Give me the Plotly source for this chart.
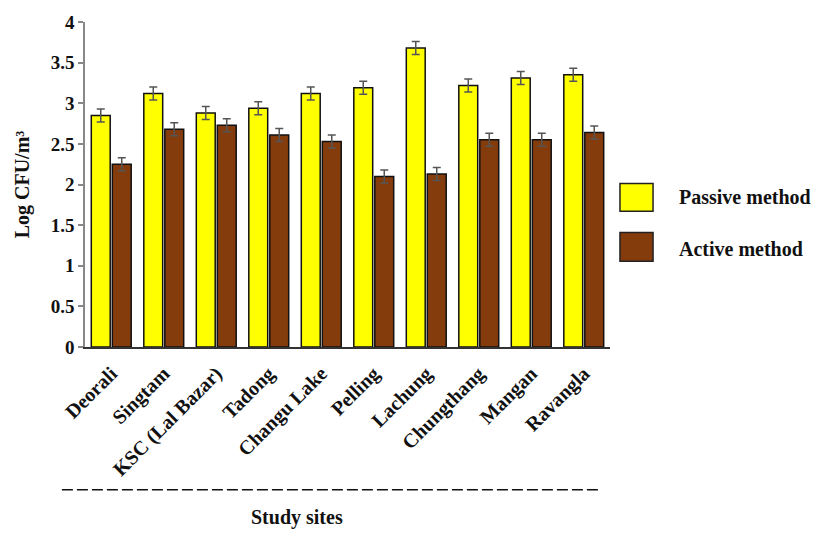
import plotly.graph_objects as go

sites = ["Deorali", "Singtam", "KSC (Lal Bazar)", "Tadong", "Changu Lake",
         "Pelling", "Lachung", "Chungthang", "Mangan", "Ravangla"]
passive = [2.85, 3.12, 2.88, 2.94, 3.12, 3.19, 3.68, 3.22, 3.31, 3.35]
active = [2.25, 2.68, 2.73, 2.61, 2.53, 2.10, 2.13, 2.55, 2.55, 2.64]
passive_err = [0.08] * 10
active_err = [0.08] * 10
y_ticks = [0, 0.5, 1, 1.5, 2, 2.5, 3, 3.5, 4]
y_tick_labels = ["0", "0.5", "1", "1.5", "2", "2.5", "3", "3.5", "4"]

YELLOW = "#FFFF00"
BROWN = "#843C0C"
FONT = "Liberation Serif"

fig = go.Figure()
fig.add_trace(go.Bar(
    x=sites, y=passive, name="Passive method",
    marker=dict(color=YELLOW, line=dict(color="#111", width=1.5)),
    error_y=dict(type="data", array=passive_err, color="#555", thickness=1.5, width=4),
))
fig.add_trace(go.Bar(
    x=sites, y=active, name="Active method",
    marker=dict(color=BROWN, line=dict(color="#111", width=1.5)),
    error_y=dict(type="data", array=active_err, color="#555", thickness=1.5, width=4),
))

fig.update_layout(
    width=827, height=536,
    margin=dict(l=85, r=217, t=17, b=189),
    paper_bgcolor="white", plot_bgcolor="white",
    barmode="group", bargap=0.2, bargroupgap=0.1,
    showlegend=False,
    font=dict(family=FONT, color="#111", size=19),
)
fig.update_yaxes(
    range=[0, 4], tickvals=y_ticks, ticktext=y_tick_labels,
    showgrid=False, zeroline=False,
    showline=True, linecolor="#888", linewidth=1.5,
    ticks="outside", ticklen=5, tickcolor="#888", tickwidth=1.5,
    tickfont=dict(family=FONT, size=19, color="#111", weight="bold"),
    title=dict(text="<b>Log CFU/m³</b>", font=dict(family=FONT, size=20, color="#111"), standoff=16),
)
fig.update_xaxes(
    showgrid=False, showline=True, linecolor="#333", linewidth=2,
    ticks="outside", ticklen=5, tickcolor="rgba(0,0,0,0)", tickangle=-45,
    tickfont=dict(family=FONT, size=20, color="#111", weight="bold"),
)

# dashed separator and x title
fig.add_shape(type="line", xref="paper", yref="paper",
              x0=-0.044, x1=0.981, y0=-0.439, y1=-0.439,
              line=dict(color="#111", width=1.5, dash="11px,4px"))
fig.add_annotation(text="<b>Study sites</b>", xref="paper", yref="paper",
                   x=0.404, y=-0.524, xanchor="center", yanchor="middle", showarrow=False,
                   font=dict(family=FONT, size=20, color="#111"))

# custom legend
legend_items = [("Passive method", YELLOW, 0.418, 0.503, 0.461),
                ("Active method", BROWN, 0.264, 0.352, 0.303)]
for label, col, y0, y1, ty in legend_items:
    fig.add_shape(type="rect", xref="paper", yref="paper",
                  x0=1.019, x1=1.082, y0=y0, y1=y1,
                  fillcolor=col, line=dict(color="#222", width=1.5))
    fig.add_annotation(text="<b>" + label + "</b>", xref="paper", yref="paper",
                       x=1.128, y=ty, xanchor="left", yanchor="middle", showarrow=False,
                       font=dict(family=FONT, size=20, color="#111"))

fig.write_html("out.html", config={"displayModeBar": False},
               post_script="document.body.style.margin='0';")
